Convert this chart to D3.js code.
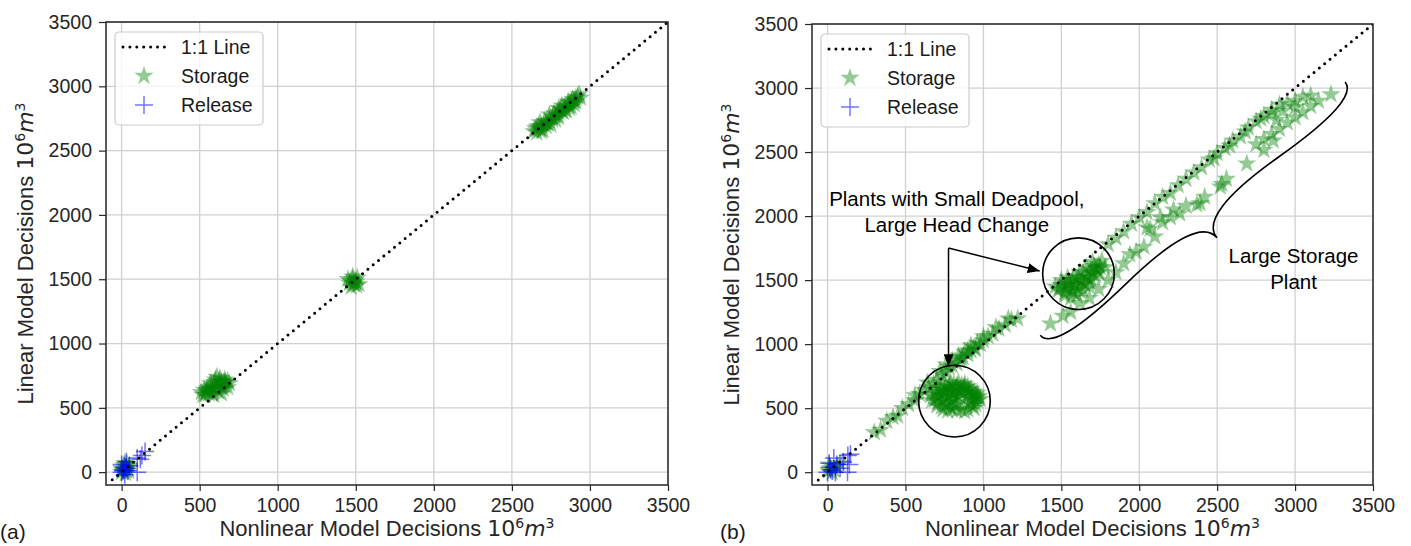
<!DOCTYPE html>
<html>

<head>
    <meta charset="utf-8" />
    <title>linear vs nonlinear decisions</title>
    <script src="https://cdn.jsdelivr.net/npm/d3@7"></script>
</head>

<body>
    <style>
        html,
        body {
            margin: 0;
            padding: 0;
            background: #fff;
        }

        svg {
            display: block;
            font-family: "Liberation Sans", Arial, sans-serif;
        }

        .grid line {
            stroke: #d0d0d0;
            stroke-width: 1.3px;
        }

        .axis .tick line {
            stroke: #262626;
            stroke-width: 1.2px;
        }

        .axis .tick text {
            fill: #262626;
            font-size: 19.5px;
            font-family: "Liberation Sans", Arial, sans-serif;
        }

        .axis .domain {
            display: none;
        }

        .math {
            font-family: "DejaVu Sans", sans-serif;
        }
    </style>
    <div id="container"></div>
    <script>
        const ticks = [0, 500, 1000, 1500, 2000, 2500, 3000, 3500];
        const domain = [-100, 3500];
        const oneToOne = [-60, 3500];
        const legendLabels = ["1:1 Line", "Storage", "Release"];

        // panel (a): [nonlinear, linear]
        const storageA = [
            [0, 0], [10, 20], [20, 40], [30, 10], [40, 30], [15, 55], [50, 50], [0, 30], [25, -10], [35, 65],
            [5, 15], [45, 10], [20, 70],
            [520, 600], [540, 620], [560, 610], [580, 640], [600, 660], [620, 680], [640, 700], [660, 690],
            [680, 710], [600, 720], [570, 690], [550, 650], [620, 630], [650, 650], [680, 660], [590, 600],
            [640, 610], [530, 640], [610, 740], [660, 720], [560, 660], [640, 660], [510, 620], [535, 600],
            [575, 670], [595, 700], [625, 710], [655, 670], [690, 690], [610, 650], [580, 610], [630, 730],
            [545, 635], [665, 700],
            [1460, 1470], [1480, 1500], [1500, 1480], [1470, 1440], [1490, 1460], [1510, 1510], [1450, 1500],
            [1520, 1460], [1480, 1520], [1495, 1490], [1465, 1485], [1505, 1450], [1485, 1470],
            [2640, 2650], [2660, 2680], [2680, 2670], [2700, 2700], [2720, 2720], [2740, 2730], [2760, 2760],
            [2780, 2770], [2800, 2800], [2820, 2810], [2840, 2840], [2860, 2850], [2880, 2880], [2900, 2890],
            [2920, 2920], [2700, 2660], [2750, 2700], [2800, 2760], [2850, 2810], [2900, 2860], [2680, 2720],
            [2740, 2780], [2800, 2830], [2860, 2880], [2940, 2910], [2660, 2640], [2780, 2740], [2880, 2840],
            [2650, 2670], [2670, 2690], [2690, 2690], [2710, 2730], [2730, 2710], [2770, 2790], [2790, 2780],
            [2810, 2820], [2830, 2800], [2870, 2870], [2890, 2900], [2910, 2880], [2930, 2940], [2720, 2690],
            [2760, 2740], [2820, 2850], [2840, 2820], [2870, 2830], [2910, 2910], [2690, 2650]
        ];
        const releaseA = [
            [0, 0], [10, 20], [20, 40], [0, 60], [40, 10], [50, 50], [30, 80], [100, 0], [100, 110],
            [130, 130], [150, 160], [120, 100], [20, -20], [10, 10], [30, 30]
        ];

        // panel (b): [nonlinear, linear]
        const storageB = [
            [5, 10], [20, 30], [40, 20], [60, 50], [10, 60], [80, 70], [30, 0],
            [300, 310], [340, 330], [380, 400], [420, 430], [450, 440], [480, 500], [520, 530], [560, 560],
            [590, 610], [620, 640], [650, 660], [680, 690], [700, 720], [730, 760], [760, 780], [780, 820],
            [800, 830], [830, 850], [850, 880], [870, 900], [900, 920], [920, 950], [950, 960], [980, 1000],
            [1000, 1030], [1030, 1060], [1060, 1080], [1100, 1120], [1140, 1150], [1180, 1190], [1220, 1200],
            [560, 600], [640, 700], [720, 790], [800, 870], [880, 940], [960, 1010], [760, 840], [840, 910],
            [920, 990], [1000, 1060], [1080, 1130], [1160, 1200], [860, 890], [900, 950], [940, 975],
            [760, 680], [810, 690], [860, 680], [900, 670], [790, 700], [840, 700], [880, 690],
            [700, 640], [750, 640], [800, 640], [850, 640], [900, 640], [940, 630], [725, 650], [775, 660],
            [825, 660], [875, 655], [920, 650], [780, 670], [830, 675], [880, 665], [740, 665],
            [660, 600], [720, 600], [780, 600], [840, 600], [900, 600], [950, 600], [970, 590], [690, 610],
            [750, 620], [810, 620], [870, 620], [930, 610], [960, 620], [710, 625], [790, 630], [850, 625],
            [910, 625],
            [670, 560], [740, 560], [800, 560], [920, 560], [960, 560], [700, 580], [770, 580], [830, 580],
            [940, 575], [980, 570], [710, 545], [770, 540], [830, 545], [690, 565], [750, 590], [810, 590],
            [900, 585], [960, 590],
            [700, 520], [760, 520], [820, 520], [930, 520], [950, 530], [730, 510], [790, 505], [915, 535],
            [740, 490], [800, 490], [860, 490], [900, 490], [940, 500], [770, 480], [830, 480], [880, 475],
            [1480, 1420], [1500, 1460], [1520, 1400], [1540, 1480], [1560, 1440], [1580, 1400], [1600, 1500],
            [1620, 1460], [1640, 1420], [1660, 1530], [1680, 1490], [1700, 1550], [1720, 1590], [1740, 1620],
            [1760, 1650], [1700, 1640], [1660, 1600], [1620, 1560], [1580, 1530], [1540, 1520], [1500, 1500],
            [1460, 1450], [1600, 1380], [1680, 1450], [1740, 1560], [1780, 1600], [1560, 1360], [1520, 1380],
            [1490, 1440], [1530, 1430], [1550, 1470], [1570, 1420], [1590, 1460], [1610, 1430], [1630, 1490],
            [1650, 1470], [1670, 1520], [1690, 1580], [1710, 1610], [1730, 1580], [1750, 1600], [1640, 1560],
            [1610, 1520], [1570, 1500], [1530, 1460], [1720, 1540], [1690, 1510],
            [1430, 1160], [1510, 1220], [1560, 1250], [1620, 1320], [1680, 1360], [1740, 1430], [1800, 1500],
            [1850, 1560], [1900, 1630], [1940, 1700], [1980, 1720], [2030, 1760], [2070, 1900], [2100, 1840],
            [2150, 1950], [2200, 1990], [2220, 2050], [2260, 2020], [2300, 2080], [2370, 2090], [2420, 2150],
            [2530, 2250], [2560, 2290], [2690, 2410], [2750, 2560], [2800, 2600], [2850, 2640], [2900, 2680],
            [2950, 2730], [3000, 2770], [3050, 2810], [3100, 2860], [3150, 2900], [3230, 2950],
            [2050, 1910], [2135, 1990], [2390, 2100], [2520, 2230], [2800, 2515], [2860, 2590],
            [1800, 1780], [1850, 1830], [1900, 1880], [1950, 1940], [2000, 1990], [2050, 2030], [2100, 2100],
            [2150, 2150], [2200, 2180], [2250, 2240], [2300, 2290], [2350, 2340], [2400, 2380], [2450, 2440],
            [2500, 2490], [2550, 2530], [2600, 2590], [2650, 2620], [2700, 2690], [2750, 2740], [2800, 2780],
            [2850, 2830], [2900, 2870], [2480, 2450], [2580, 2550], [2680, 2660], [2780, 2760],
            [2950, 2880], [3000, 2900], [3050, 2930], [3100, 2940], [2850, 2800], [2880, 2750], [2920, 2820],
            [3000, 2850]
        ];
        const releaseB = [
            [13, 39], [40, 110], [147, 140], [128, 0], [0, 0], [20, 20], [60, 60], [100, 80], [130, 130],
            [30, 10], [80, 30], [140, 60], [10, 70], [50, 0]
        ];

        // annotations for panel (b), in data units
        const circleCenters = [[814, 555], [1610, 1550]];
        const circleRadius = 230;
        const arrowCorner = [776, 1750];
        const arrowTips = [[776, 828], [1361, 1571]];
        const braceEnds = [[1365, 1070], [3321, 3047]];
        const deadpoolText = ["Plants with Small Deadpool,", "Large Head Change"];
        const deadpoolPos = [[829, 2079], [829, 1876]];
        const storageText = ["Large Storage", "Plant"];
        const storagePos = [[2990, 1634], [2990, 1431]];

        const svg = d3.select("#container").append("svg")
            .attr("width", 1411)
            .attr("height", 546);

        const defs = svg.append("defs");
        defs.append("marker")
            .attr("id", "arrowhead")
            .attr("viewBox", "0 0 12 10")
            .attr("refX", 12)
            .attr("refY", 5)
            .attr("markerWidth", 12)
            .attr("markerHeight", 10)
            .attr("markerUnits", "userSpaceOnUse")
            .attr("orient", "auto")
            .append("path")
            .attr("d", "M0,0L12,5L0,10Z")
            .attr("fill", "#000");

        const star = d3.symbol().type(d3.symbolStar).size(115);
        const plusPath = "M-9,0H9M0,-9V9";

        function mathLabel(textSel, words) {
            textSel.append("tspan").text(words + " ");
            textSel.append("tspan").attr("class", "math").text("10");
            textSel.append("tspan").attr("class", "math").attr("dy", -8).attr("font-size", "14px").text("6");
            textSel.append("tspan").attr("class", "math").attr("dy", 8).attr("font-style", "italic").text("m");
            textSel.append("tspan").attr("class", "math").attr("dy", -8).attr("font-size", "14px").text("3");
        }

        function drawPanel(p, storage, release) {
            const x = d3.scaleLinear().domain(domain).range([p.left, p.right]);
            const y = d3.scaleLinear().domain(domain).range([p.bottom, p.top]);
            const g = svg.append("g");

            defs.append("clipPath").attr("id", "clip-" + p.id)
                .append("rect")
                .attr("x", p.left).attr("y", p.top)
                .attr("width", p.right - p.left).attr("height", p.bottom - p.top);

            // grid
            const grid = g.append("g").attr("class", "grid");
            grid.selectAll(".gx").data(ticks).enter().append("line")
                .attr("x1", d => x(d)).attr("x2", d => x(d))
                .attr("y1", p.top).attr("y2", p.bottom);
            grid.selectAll(".gy").data(ticks).enter().append("line")
                .attr("y1", d => y(d)).attr("y2", d => y(d))
                .attr("x1", p.left).attr("x2", p.right);

            // axes
            g.append("g").attr("class", "axis")
                .attr("transform", `translate(0,${p.bottom})`)
                .call(d3.axisBottom(x).tickValues(ticks).tickSize(6).tickPadding(7).tickFormat(d3.format("d")));
            g.append("g").attr("class", "axis")
                .attr("transform", `translate(${p.left},0)`)
                .call(d3.axisLeft(y).tickValues(ticks).tickSize(7).tickPadding(7).tickFormat(d3.format("d")));

            const plot = g.append("g").attr("clip-path", `url(#clip-${p.id})`);

            plot.selectAll(".storage").data(storage).enter().append("path")
                .attr("class", "storage")
                .attr("d", star)
                .attr("transform", d => `translate(${x(d[0])},${y(d[1])})`)
                .attr("fill", "green")
                .attr("fill-opacity", 0.42);

            plot.selectAll(".release").data(release).enter().append("path")
                .attr("class", "release")
                .attr("d", plusPath)
                .attr("transform", d => `translate(${x(d[0])},${y(d[1])})`)
                .attr("stroke", "blue")
                .attr("stroke-width", 1.5)
                .attr("stroke-opacity", 0.55)
                .attr("fill", "none");

            plot.append("line")
                .attr("x1", x(oneToOne[0])).attr("y1", y(oneToOne[0]))
                .attr("x2", x(oneToOne[1])).attr("y2", y(oneToOne[1]))
                .attr("stroke", "#000")
                .attr("stroke-width", 3)
                .attr("stroke-linecap", "round")
                .attr("stroke-dasharray", "0 6.9");

            // frame
            g.append("rect")
                .attr("x", p.left).attr("y", p.top)
                .attr("width", p.right - p.left).attr("height", p.bottom - p.top)
                .attr("fill", "none")
                .attr("stroke", "#262626")
                .attr("stroke-width", 1.5);

            // legend
            const lg = g.append("g").attr("transform", `translate(${p.left + 9},${p.top + 10})`);
            lg.append("rect")
                .attr("width", 148).attr("height", 93).attr("rx", 4)
                .attr("fill", "#fff").attr("fill-opacity", 0.8)
                .attr("stroke", "#cccccc").attr("stroke-width", 1.2);
            lg.append("line")
                .attr("x1", 8).attr("x2", 51).attr("y1", 15).attr("y2", 15)
                .attr("stroke", "#000").attr("stroke-width", 3)
                .attr("stroke-linecap", "round").attr("stroke-dasharray", "0 6.9");
            lg.append("path").attr("d", star)
                .attr("transform", "translate(29,44)")
                .attr("fill", "green").attr("fill-opacity", 0.42);
            lg.append("path").attr("d", plusPath)
                .attr("transform", "translate(29,73)")
                .attr("stroke", "blue").attr("stroke-opacity", 0.55).attr("stroke-width", 1.5);
            lg.selectAll(".lt").data(legendLabels).enter().append("text")
                .attr("x", 66)
                .attr("y", (d, i) => 22 + i * 29)
                .attr("font-size", "19.5px")
                .attr("fill", "#1a1a1a")
                .text(d => d);

            // axis labels
            const cx = (p.left + p.right) / 2;
            const xl = g.append("text")
                .attr("x", cx).attr("y", p.bottom + 51)
                .attr("text-anchor", "middle")
                .attr("font-size", "22px")
                .attr("fill", "#262626");
            mathLabel(xl, "Nonlinear Model Decisions");

            const cy = (p.top + p.bottom) / 2;
            const yl = g.append("text")
                .attr("transform", `translate(${p.left - 73},${cy}) rotate(-90)`)
                .attr("text-anchor", "middle")
                .attr("font-size", "22px")
                .attr("fill", "#262626");
            mathLabel(yl, "Linear Model Decisions");

            g.append("text")
                .attr("x", p.tagX).attr("y", 539)
                .attr("font-size", "21px")
                .attr("fill", "#1a1a1a")
                .text(p.tag);

            return { x, y, g };
        }

        drawPanel({ id: "a", left: 106, right: 668, top: 22, bottom: 485, tag: "(a)", tagX: 0 }, storageA, releaseA);
        const pb = drawPanel({ id: "b", left: 812, right: 1373, top: 24, bottom: 485, tag: "(b)", tagX: 720 }, storageB, releaseB);

        // annotations on panel (b)
        const ax = pb.x, ay = pb.y, ann = pb.g.append("g");
        const rPx = ax(circleRadius) - ax(0);
        ann.selectAll(".circ").data(circleCenters).enter().append("circle")
            .attr("cx", d => ax(d[0])).attr("cy", d => ay(d[1]))
            .attr("r", rPx)
            .attr("fill", "none").attr("stroke", "#000").attr("stroke-width", 1.6);

        ann.selectAll(".arrow").data(arrowTips).enter().append("path")
            .attr("d", d => d3.line()([[ax(arrowCorner[0]), ay(arrowCorner[1])], [ax(d[0]), ay(d[1])]]))
            .attr("stroke", "#000").attr("stroke-width", 1.5).attr("fill", "none")
            .attr("marker-end", "url(#arrowhead)");

        function curlyBrace(x1, y1, x2, y2, w, q) {
            let dx = x1 - x2, dy = y1 - y2;
            const len = Math.sqrt(dx * dx + dy * dy);
            dx /= len; dy /= len;
            const qx1 = x1 + q * w * dy, qy1 = y1 - q * w * dx;
            const qx2 = (x1 - .25 * len * dx) + (1 - q) * w * dy, qy2 = (y1 - .25 * len * dy) - (1 - q) * w * dx;
            const tx1 = (x1 - .5 * len * dx) + w * dy, ty1 = (y1 - .5 * len * dy) - w * dx;
            const qx3 = x2 + q * w * dy, qy3 = y2 - q * w * dx;
            const qx4 = (x1 - .75 * len * dx) + (1 - q) * w * dy, qy4 = (y1 - .75 * len * dy) - (1 - q) * w * dx;
            return `M${x1},${y1}Q${qx1},${qy1} ${qx2},${qy2}T${tx1},${ty1}` +
                `M${x2},${y2}Q${qx3},${qy3} ${qx4},${qy4}T${tx1},${ty1}`;
        }
        ann.append("path")
            .attr("d", curlyBrace(ax(braceEnds[0][0]), ay(braceEnds[0][1]), ax(braceEnds[1][0]), ay(braceEnds[1][1]), 38, 0.6))
            .attr("stroke", "#000").attr("stroke-width", 1.6).attr("fill", "none");

        ann.selectAll(".dt").data(deadpoolText).enter().append("text")
            .attr("x", (d, i) => ax(deadpoolPos[i][0])).attr("y", (d, i) => ay(deadpoolPos[i][1]))
            .attr("text-anchor", "middle").attr("font-size", "20.5px").attr("fill", "#000")
            .text(d => d);
        ann.selectAll(".st").data(storageText).enter().append("text")
            .attr("x", (d, i) => ax(storagePos[i][0])).attr("y", (d, i) => ay(storagePos[i][1]))
            .attr("text-anchor", "middle").attr("font-size", "20.5px").attr("fill", "#000")
            .text(d => d);
    </script>
</body>

</html>
